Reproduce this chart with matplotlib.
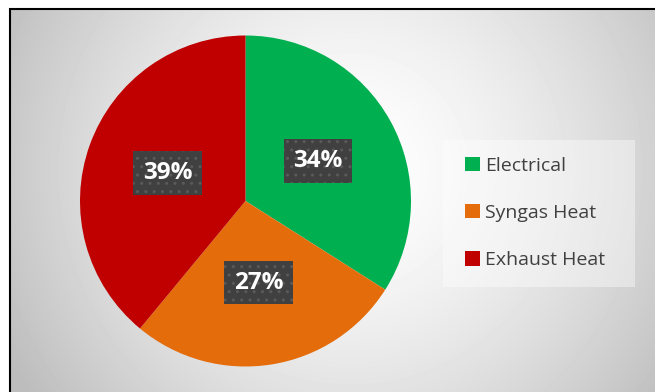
import numpy as np
import matplotlib
matplotlib.use('Agg')
import matplotlib.pyplot as plt
from matplotlib.patches import Rectangle

# Energy split
labels = ['Electrical', 'Syngas Heat', 'Exhaust Heat']
shares = [34, 27, 39]
colors = ['#00B050', '#E46C0A', '#C00000']

plt.rcParams['font.family'] = ['Open Sans', 'DejaVu Sans']
plt.rcParams['hatch.linewidth'] = 1.0

W, H = 655, 392
fig = plt.figure(figsize=(W / 100, H / 100), dpi=100, facecolor='white')

# Radial grey background
bg = fig.add_axes([10 / W, 0, 1 - 10 / W, 1 - 9 / H], zorder=0)
yy, xx = np.mgrid[9:H, 10:W]
d = np.hypot(xx - 350, yy - 170) / 380
shade = np.clip(1 - 0.25 * d ** 1.5, 0.74, 1)
bg.imshow(shade, cmap='gray', vmin=0, vmax=1, aspect='auto',
          extent=[0, 1, 0, 1], interpolation='bilinear')
bg.set_axis_off()

# Black frame on the left and top
fig.patches.append(Rectangle((10 / W, -0.1), 1.2, 1 - 9 / H + 0.1,
                             transform=fig.transFigure, fill=False,
                             edgecolor='black', linewidth=1.5, zorder=5))

# Pie
cx, cy, r = 245.5, 201, 165.5
ax = fig.add_axes([(cx - r) / W, (H - cy - r) / H, 2 * r / W, 2 * r / H], zorder=2)
wedges, texts, autotexts = ax.pie(
    shares, colors=colors, startangle=90, counterclock=False,
    autopct='%.0f%%', pctdistance=0.5,
    wedgeprops=dict(linewidth=0),
    textprops=dict(color='white', fontsize=17.5, fontweight='bold'))
ax.set_xlim(-1, 1)
ax.set_ylim(-1, 1)

for t in autotexts:
    t.set_bbox(dict(boxstyle='square,pad=0.4', facecolor='#404040',
                    edgecolor='#5A5A5A', linewidth=0, hatch='..'))

# Legend panel
fig.patches.append(Rectangle((443 / W, (H - 287) / H), 192 / W, 147 / H,
                             transform=fig.transFigure, facecolor='white',
                             alpha=0.4, edgecolor='none', zorder=1))
fig.legend(wedges, labels, loc='center left',
           bbox_to_anchor=(465 / W, 1 - 213 / H), frameon=False,
           fontsize=14, labelcolor='#404040', borderpad=0, borderaxespad=0,
           handlelength=0.75, handleheight=0.75, handletextpad=0.3,
           labelspacing=1.5)

fig.savefig('out.png', dpi=100, facecolor='white')
